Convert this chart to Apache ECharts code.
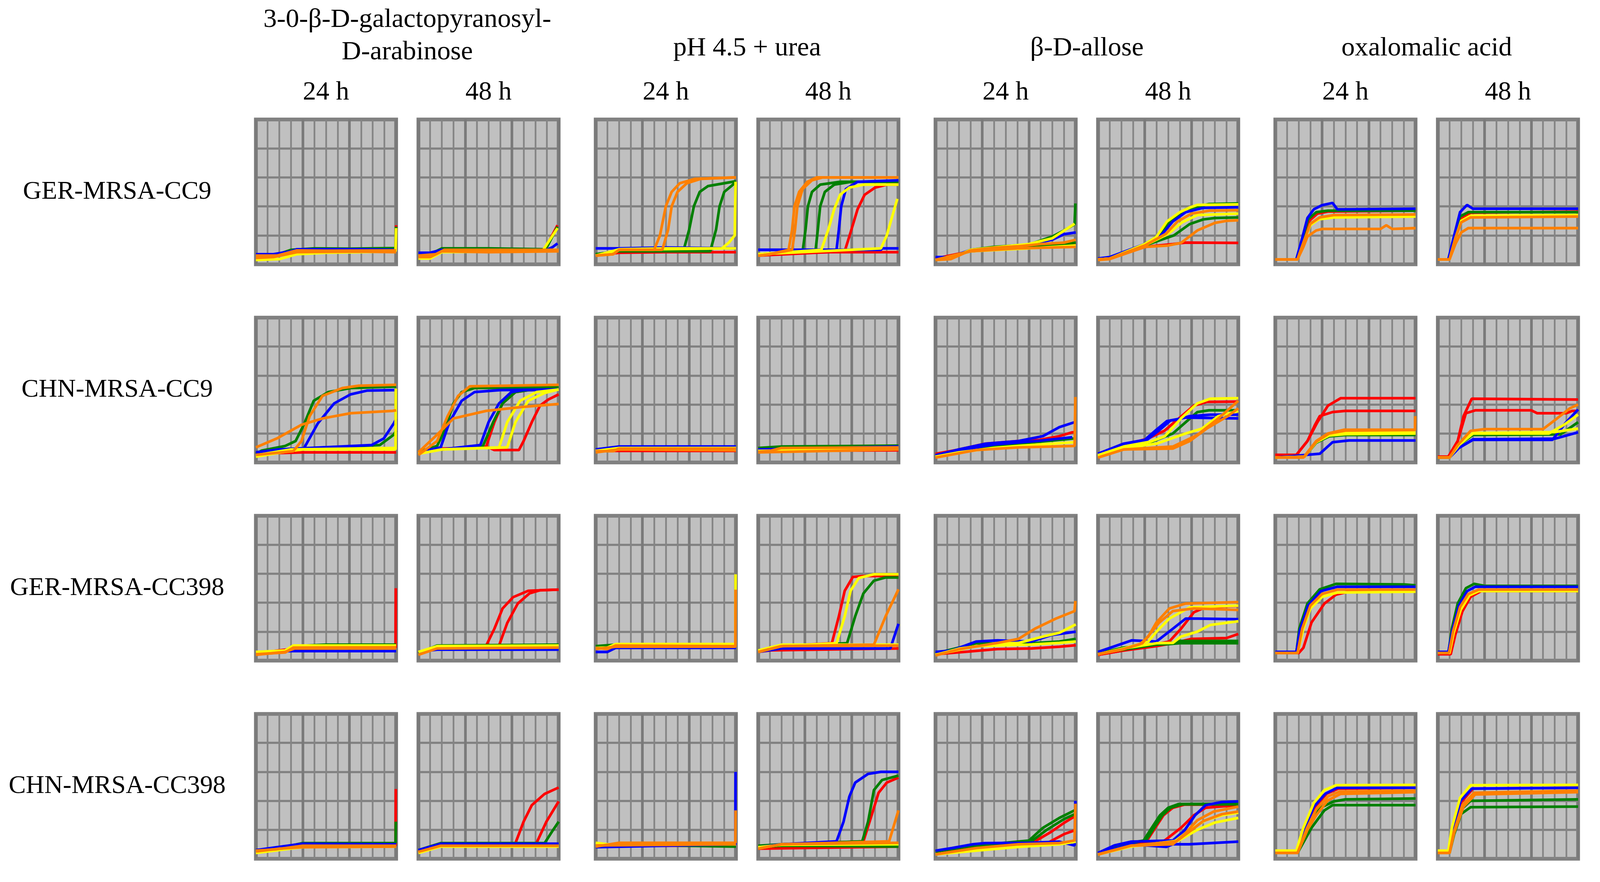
<!DOCTYPE html>
<html><head><meta charset="utf-8">
<script src="https://cdn.jsdelivr.net/npm/echarts@6/dist/echarts.min.js"></script>
<style>html,body{margin:0;padding:0;background:#fff;overflow:hidden}#c{width:100vw;height:100vh}</style>
</head><body><div id="c"></div>
<script>
const rowLabels = ['GER-MRSA-CC9', 'CHN-MRSA-CC9', 'GER-MRSA-CC398', 'CHN-MRSA-CC398'];
const groupTitles = [['3-0-β-D-galactopyranosyl-', 'D-arabinose'], ['pH 4.5 + urea'], ['β-D-allose'], ['oxalomalic acid']];
const timeLabels = ['24 h', '48 h'];

// curves: [replicate colour key, [[x, y], ...]]  x: 0-12 grid columns, y: 0-5 grid rows
const GER9_GAL24 = [
 ['R', [[0,0.3],[1.5,0.3],[3.5,0.42],[6,0.45],[9,0.45],[11.95,0.45],[12,1.35]]],
 ['G', [[0,0.3],[1.7,0.32],[3,0.5],[5,0.55],[8,0.54],[11.95,0.56],[12,1.3]]],
 ['B', [[0,0.35],[1.5,0.35],[3,0.45],[3.5,0.52],[6,0.52],[9,0.52],[12,0.5]]],
 ['Y', [[0,0.15],[2,0.18],[3.5,0.35],[6,0.4],[9,0.42],[11.95,0.45],[12,1.25]]],
 ['O', [[0,0.22],[1.5,0.25],[3.5,0.42],[6,0.43],[9,0.44],[12,0.42]]],
 ['O', [[0,0.3],[1.8,0.3],[3.5,0.48],[6,0.47],[12,0.48]]]
];
const GER9_GAL48 = [
 ['R', [[0,0.3],[0.8,0.3],[2,0.48],[6,0.5],[10.8,0.5],[11.9,1.35]]],
 ['G', [[0,0.32],[1,0.35],[2,0.55],[6,0.55],[10.9,0.52],[11.9,1.3]]],
 ['B', [[0,0.4],[1,0.4],[2,0.5],[6,0.5],[11,0.5],[11.5,0.6],[11.9,0.72]]],
 ['Y', [[0,0.2],[1,0.2],[2,0.42],[6,0.44],[10.6,0.45],[11.9,1.25]]],
 ['O', [[0,0.25],[1,0.25],[2,0.45],[6,0.42],[12,0.45]]],
 ['O', [[0,0.3],[1.5,0.35],[2.2,0.5],[12,0.5]]]
];
const GER9_URE24 = [
 ['R', [[0,0.3],[2,0.4],[6,0.42],[12,0.42]]],
 ['G', [[0,0.35],[2,0.45],[7.5,0.45],[8.0,1.2],[8.4,2.0],[8.9,2.5],[9.6,2.7],[12,2.87]]],
 ['G', [[0,0.35],[2,0.45],[9.8,0.45],[10.3,1.2],[10.6,2.0],[11.0,2.5],[11.6,2.7],[12,2.85]]],
 ['B', [[0,0.55],[2,0.55],[6,0.58],[12,0.55]]],
 ['Y', [[0,0.3],[2,0.5],[10.8,0.55],[11.4,0.75],[11.9,1.0],[11.97,2.85]]],
 ['Y', [[0,0.3],[2,0.52],[6,0.55],[12,0.55]]],
 ['O', [[0,0.3],[1.5,0.35],[2,0.5],[5,0.5],[5.5,1.0],[6,2.0],[6.5,2.5],[7.2,2.8],[8.5,2.95],[12,3.0]]],
 ['O', [[0,0.3],[1.5,0.35],[2,0.5],[5.7,0.5],[6.2,1.2],[6.5,2.0],[7,2.5],[7.8,2.8],[9,2.95],[12,3.0]]]
];
const GER9_URE48 = [
 ['R', [[0,0.3],[7.4,0.45],[7.9,1.1],[8.5,1.9],[9.1,2.4],[10,2.65],[11,2.75],[12,2.75]]],
 ['R', [[0,0.35],[6,0.42],[12,0.42]]],
 ['G', [[0,0.35],[3.8,0.45],[4.05,1.2],[4.25,2.0],[4.6,2.5],[5.3,2.75],[7,2.85],[12,2.85]]],
 ['G', [[0,0.35],[4.9,0.45],[5.1,1.2],[5.3,2.0],[5.7,2.5],[6.5,2.75],[8,2.85],[12,2.85]]],
 ['B', [[0,0.5],[6.7,0.5],[6.9,1.2],[7.1,2.0],[7.5,2.6],[8.5,2.85],[12,2.9]]],
 ['B', [[0,0.5],[10.5,0.5],[10.6,0.55],[12,0.55]]],
 ['Y', [[0,0.35],[5.4,0.5],[6.0,1.2],[6.5,1.9],[7.0,2.4],[7.8,2.65],[9,2.75],[12,2.75]]],
 ['Y', [[0,0.35],[10.5,0.55],[11.0,1.0],[11.5,1.7],[11.9,2.26]]],
 ['O', [[0,0.3],[1,0.35],[2.6,0.5],[2.9,1.2],[3.1,2.0],[3.5,2.5],[4.2,2.85],[5,3.0],[12,3.0]]],
 ['O', [[0,0.3],[1,0.35],[2.9,0.5],[3.15,1.2],[3.35,2.0],[3.8,2.6],[4.6,2.9],[5.5,3.0],[12,3.0]]]
];
const GER9_ALL24 = [
 ['R', [[0,0.2],[3,0.45],[8,0.6],[12,0.7]]],
 ['G', [[0,0.15],[1.3,0.2],[3,0.5],[5,0.6],[8,0.68],[10,0.96],[11,1.17],[11.9,1.38],[11.97,2.1]]],
 ['G', [[0,0.15],[3,0.45],[8,0.6],[10,0.65],[12,0.75]]],
 ['B', [[0,0.25],[1.3,0.25],[3,0.5],[6,0.6],[8,0.68],[10,0.85],[11,1.04],[12,1.1]]],
 ['Y', [[0,0.15],[1.3,0.2],[3,0.5],[5,0.58],[8,0.7],[10,0.9],[11.9,1.4]]],
 ['Y', [[0,0.15],[3,0.45],[8,0.55],[12,0.65]]],
 ['O', [[0,0.15],[1.3,0.18],[3,0.48],[5,0.57],[7,0.62],[9,0.7],[11,0.75],[12,0.85]]],
 ['O', [[0,0.15],[3,0.45],[7,0.55],[12,0.6]]]
];
const GER9_ALL48 = [
 ['R', [[0,0.17],[1,0.2],[4,0.6],[6.4,0.7],[7.5,0.75],[12,0.74]]],
 ['G', [[0,0.17],[1,0.2],[4,0.7],[5.2,1.0],[6.2,1.5],[7.5,1.9],[9.5,2.08],[12,2.1]]],
 ['G', [[0,0.17],[1,0.2],[4,0.65],[6.5,1.0],[7.85,1.39],[9,1.55],[10,1.6],[12,1.62]]],
 ['B', [[0,0.2],[1,0.25],[4,0.7],[5.5,1.05],[6.4,1.48],[7.5,1.8],[9,1.95],[12,1.97]]],
 ['Y', [[0,0.17],[1,0.2],[4,0.7],[5,0.95],[5.9,1.48],[7,1.8],[7.85,1.96],[8.5,2.05],[12,2.07]]],
 ['Y', [[0,0.17],[1,0.2],[4,0.65],[6,1.05],[7.2,1.45],[8.5,1.7],[12,1.75]]],
 ['O', [[0,0.17],[1,0.2],[4,0.65],[5.8,1.05],[6.8,1.48],[8,1.75],[9.5,1.85],[12,1.87]]],
 ['O', [[0,0.15],[1,0.18],[4,0.6],[6,0.65],[7.1,0.74],[8.5,1.17],[10,1.43],[11,1.5],[12,1.52]]]
];
const GER9_OXA24 = [
 ['R', [[0,0.17],[1.85,0.17],[2.4,0.85],[2.9,1.5],[3.6,1.75],[4.5,1.82],[12,1.85]]],
 ['G', [[0,0.17],[1.8,0.17],[2.3,0.85],[2.8,1.55],[3.5,1.8],[4.5,1.85],[12,1.85]]],
 ['B', [[0,0.17],[1.8,0.17],[2.3,0.9],[2.75,1.6],[3.3,1.9],[4,2.04],[4.9,2.12],[5.3,1.9],[6,1.9],[12,1.92]]],
 ['Y', [[0,0.17],[1.9,0.17],[2.5,0.85],[3.0,1.35],[3.7,1.55],[5,1.62],[12,1.65]]],
 ['O', [[0,0.17],[1.9,0.17],[2.5,0.85],[3.0,1.4],[3.8,1.62],[5,1.7],[12,1.72]]],
 ['O', [[0,0.17],[1.9,0.17],[2.4,0.6],[2.75,0.96],[3.5,1.17],[4,1.22],[9,1.22],[9.5,1.35],[10,1.22],[12,1.25]]]
];
const GER9_OXA48 = [
 ['R', [[0,0.17],[0.95,0.17],[1.5,0.95],[2.0,1.6],[2.8,1.78],[12,1.82]]],
 ['G', [[0,0.17],[0.9,0.17],[1.4,0.95],[1.9,1.65],[2.6,1.8],[12,1.8]]],
 ['B', [[0,0.17],[0.9,0.17],[1.4,1.0],[1.9,1.8],[2.5,2.05],[3,1.92],[12,1.92]]],
 ['Y', [[0,0.17],[1,0.17],[1.5,0.9],[2.0,1.5],[2.8,1.68],[12,1.7]]],
 ['O', [[0,0.17],[1,0.17],[1.5,0.9],[2.0,1.45],[2.8,1.62],[12,1.65]]],
 ['O', [[0,0.17],[1,0.17],[1.5,0.7],[2.0,1.1],[2.6,1.25],[12,1.25]]]
];

const CHN9_GAL24 = [
 ['R', [[0,0.3],[4,0.35],[12,0.35]]],
 ['G', [[0,0.3],[0.5,0.41],[2.5,0.57],[3.4,0.74],[4.1,1.3],[4.95,2.13],[6.2,2.43],[8.1,2.57],[12,2.62]]],
 ['G', [[0,0.35],[2,0.45],[10.6,0.6],[11.8,0.96],[12,1.1]]],
 ['B', [[0,0.35],[2,0.45],[4.1,0.48],[5.3,1.35],[6.7,2.04],[8.1,2.35],[9.5,2.48],[12,2.5]]],
 ['B', [[0,0.35],[2,0.45],[9.9,0.6],[10.95,0.83],[11.8,1.35],[12,1.5]]],
 ['Y', [[0,0.2],[3,0.4],[4,0.45],[11.95,0.45],[11.97,2.55]]],
 ['Y', [[0,0.25],[3,0.45],[12,0.5]]],
 ['O', [[0,0.26],[3.2,0.39],[3.9,0.74],[4.6,1.6],[5.7,2.3],[7.4,2.57],[8.8,2.65],[12,2.68]]],
 ['O', [[0,0.52],[1.8,0.83],[3.9,1.3],[5.7,1.52],[8.1,1.7],[11.7,1.78],[12,1.8]]]
];
const CHN9_GAL48 = [
 ['R', [[0,0.35],[2,0.45],[5.8,0.55],[6.5,1.39],[7.2,2.04],[8.3,2.43],[9.5,2.5],[12,2.52]]],
 ['R', [[0,0.35],[2,0.48],[6,0.52],[6.5,0.43],[8.6,0.43],[9.0,0.74],[9.7,1.39],[10.4,1.96],[11.1,2.17],[12,2.35]]],
 ['G', [[0,0.35],[0.5,0.43],[1.6,0.57],[2.3,1.17],[3.0,2.04],[3.7,2.43],[4.8,2.57],[12,2.6]]],
 ['G', [[0,0.35],[2,0.45],[5.5,0.55],[6.4,1.39],[7.2,2.04],[8.3,2.43],[9.5,2.5],[12,2.52]]],
 ['B', [[0,0.35],[1.9,0.52],[2.65,1.39],[3.7,2.13],[4.8,2.43],[7,2.5],[12,2.52]]],
 ['B', [[0,0.35],[2,0.45],[5.3,0.6],[6.0,1.39],[6.9,2.04],[7.95,2.43],[9,2.5],[12,2.52]]],
 ['Y', [[0,0.3],[2,0.45],[6.9,0.52],[7.6,1.39],[8.7,2.13],[10.1,2.43],[12,2.52]]],
 ['Y', [[0,0.3],[2,0.45],[7.6,0.52],[8.3,1.39],[9.4,2.13],[10.8,2.4],[12,2.52]]],
 ['O', [[0,0.26],[1.6,0.74],[2.5,1.6],[3.4,2.3],[4.4,2.63],[12,2.68]]],
 ['O', [[0,0.35],[1.6,0.96],[3.0,1.52],[5.8,1.78],[8.7,1.91],[12,2.02]]]
];
const CHN9_URE24 = [
 ['R', [[0,0.4],[12,0.4]]],
 ['G', [[0,0.45],[2,0.52],[12,0.5]]],
 ['B', [[0,0.45],[2,0.55],[12,0.55]]],
 ['Y', [[0,0.4],[2,0.5],[12,0.5]]],
 ['O', [[0,0.39],[1.5,0.39],[2,0.48],[12,0.48]]],
 ['O', [[0,0.35],[2,0.45],[12,0.42]]]
];
const CHN9_URE48 = [
 ['R', [[0,0.4],[12,0.42]]],
 ['G', [[0,0.5],[2,0.55],[12,0.58]]],
 ['B', [[0,0.45],[12,0.55]]],
 ['Y', [[0,0.4],[12,0.48]]],
 ['O', [[0,0.37],[1,0.4],[2,0.5],[12,0.52]]],
 ['O', [[0,0.35],[12,0.45]]]
];
const CHN9_ALL24 = [
 ['R', [[0,0.3],[1.8,0.43],[4.25,0.65],[7.1,0.74],[8.9,0.78],[10.6,0.91],[11.7,1.04],[12,1.05]]],
 ['G', [[0,0.2],[2,0.4],[5,0.55],[7.1,0.65],[10.6,0.78],[11.9,0.83]]],
 ['B', [[0,0.25],[2,0.45],[4.3,0.65],[7.1,0.74],[9.2,0.91],[10.6,1.22],[11.9,1.39]]],
 ['B', [[0,0.25],[2,0.42],[5,0.62],[8.9,0.75],[11.7,0.87]]],
 ['Y', [[0,0.2],[2,0.35],[5,0.5],[7.1,0.57],[11.9,0.7]]],
 ['O', [[0,0.17],[3.5,0.43],[7.1,0.52],[11.9,0.57],[11.97,2.26]]]
];
const CHN9_ALL48 = [
 ['R', [[0,0.3],[2.2,0.6],[4.3,0.83],[5.7,1.1],[6.8,1.48],[8.2,1.96],[9.3,2.09],[12,2.1]]],
 ['G', [[0,0.25],[2.2,0.55],[4.5,0.7],[6.4,1.0],[7.5,1.39],[8.5,1.74],[9.5,1.8],[12,1.8]]],
 ['B', [[0,0.3],[2.2,0.65],[4,0.78],[5.0,1.13],[5.9,1.43],[6.8,1.48],[7.85,1.6],[9.6,1.65],[12,1.65]]],
 ['B', [[0,0.3],[2.2,0.6],[4,0.72],[5.2,1.1],[6.2,1.45],[7.5,1.55],[12,1.52]]],
 ['Y', [[0,0.25],[2.2,0.55],[4.5,0.72],[5.7,0.9],[7.1,1.52],[8.5,2.04],[9.6,2.2],[12,2.22]]],
 ['Y', [[0,0.2],[2.2,0.5],[5,0.65],[7.5,1.0],[8.9,1.17],[10.3,1.6],[12,1.78]]],
 ['O', [[0,0.17],[2.2,0.45],[6.4,0.48],[7.85,0.74],[9.3,1.17],[11.1,1.6],[12,1.87]]],
 ['O', [[0,0.17],[2.2,0.45],[6.4,0.55],[8.5,0.95],[10.3,1.52],[12,2.13]]]
];
const CHN9_OXA24 = [
 ['R', [[0,0.26],[1.8,0.26],[2.75,0.74],[3.6,1.39],[4.5,1.96],[5.6,2.22],[12,2.22]]],
 ['R', [[0,0.26],[1.8,0.26],[2.75,0.74],[3.4,1.3],[3.8,1.6],[4.9,1.74],[6,1.78],[12,1.78]]],
 ['G', [[0,0.17],[2.5,0.2],[3.5,0.68],[4.6,0.9],[6,0.95],[12,0.95]]],
 ['B', [[0,0.17],[3.8,0.3],[4.9,0.7],[6.3,0.76],[12,0.76]]],
 ['Y', [[0,0.17],[2.5,0.2],[3.5,0.7],[4.6,0.93],[6,0.98],[12,1.0]]],
 ['Y', [[0,0.17],[2.5,0.2],[3.5,0.72],[4.6,0.98],[6,1.05],[12,1.05]]],
 ['O', [[0,0.17],[2.4,0.17],[3.5,0.74],[4.5,1.0],[5.9,1.13],[12,1.13]]],
 ['O', [[0,0.17],[2.5,0.2],[3.5,0.72],[4.6,1.0],[6,1.1],[11.95,1.12],[11.97,1.6]]]
];
const CHN9_OXA48 = [
 ['R', [[0,0.2],[0.9,0.2],[1.7,0.74],[2.2,1.6],[2.9,2.2],[12,2.17]]],
 ['R', [[0,0.2],[0.9,0.2],[1.7,0.74],[2.4,1.7],[3.2,1.8],[8,1.8],[8.5,1.7],[11,1.7],[11.5,1.78],[12,1.78]]],
 ['G', [[0,0.17],[1,0.17],[1.8,0.6],[3,0.95],[10.5,0.97],[12,1.39]]],
 ['B', [[0,0.17],[1,0.17],[1.8,0.5],[3,0.78],[9.8,0.78],[10.9,1.35],[12,1.83]]],
 ['B', [[0,0.17],[1,0.17],[1.8,0.5],[3,0.8],[10,0.82],[12,1.04]]],
 ['Y', [[0,0.17],[1,0.17],[1.8,0.6],[3,1.0],[9.5,1.0],[10.8,1.3],[12,1.65]]],
 ['Y', [[0,0.17],[1,0.17],[1.8,0.6],[3,1.02],[10,1.05],[12,1.17]]],
 ['O', [[0,0.17],[1,0.17],[1.7,0.6],[2.8,1.09],[4,1.15],[9,1.15],[10.2,1.52],[11.3,1.87],[12,2.0]]]
];

const GER398_GAL24 = [
 ['R', [[0,0.26],[3,0.4],[11.95,0.45],[11.97,2.5]]],
 ['G', [[0,0.26],[2.5,0.3],[3.2,0.5],[6,0.55],[12,0.55]]],
 ['B', [[0,0.3],[3,0.33],[12,0.33]]],
 ['Y', [[0,0.3],[2.5,0.35],[3.2,0.52],[12,0.52]]],
 ['O', [[0,0.22],[2.5,0.28],[3.2,0.45],[12,0.46]]],
 ['O', [[0,0.2],[2.5,0.3],[3.3,0.42],[12,0.42]]]
];
const GER398_GAL48 = [
 ['R', [[0,0.26],[1.6,0.48],[5.8,0.52],[6.5,1.1],[7.2,1.8],[8.1,2.19],[9.4,2.41],[12,2.45]]],
 ['R', [[0,0.26],[1.6,0.48],[6.9,0.52],[7.6,1.3],[8.5,1.97],[9.5,2.32],[10.4,2.43],[12,2.45]]],
 ['G', [[0,0.26],[1.6,0.52],[12,0.55]]],
 ['B', [[0,0.3],[1.6,0.38],[12,0.38]]],
 ['Y', [[0,0.3],[1.6,0.5],[12,0.52]]],
 ['O', [[0,0.2],[1.6,0.42],[12,0.45]]]
];
const GER398_URE24 = [
 ['R', [[0,0.45],[12,0.45]]],
 ['G', [[0,0.5],[1.7,0.55],[12,0.55]]],
 ['B', [[0,0.3],[1,0.3],[1.7,0.44],[12,0.44]]],
 ['Y', [[0,0.44],[1,0.45],[1.7,0.57],[11.95,0.57],[11.97,2.98]]],
 ['O', [[0,0.44],[1,0.4],[1.7,0.52],[12,0.5]]],
 ['O', [[0,0.4],[1.7,0.48],[11.95,0.48],[11.97,2.45]]]
];
const GER398_URE48 = [
 ['R', [[0,0.35],[12,0.42]]],
 ['R', [[0,0.3],[1,0.35],[2,0.5],[6.3,0.6],[6.9,1.53],[7.4,2.41],[8.1,2.89],[9,2.92],[12,2.92]]],
 ['G', [[0,0.35],[2,0.5],[7.6,0.6],[8.3,1.53],[9.0,2.32],[9.9,2.76],[10.9,2.87],[12,2.87]]],
 ['B', [[0,0.3],[2,0.42],[11.3,0.42],[11.5,0.66],[12,1.27]]],
 ['Y', [[0,0.3],[2,0.5],[6.7,0.6],[7.4,1.53],[7.9,2.41],[8.6,2.85],[9.9,2.98],[12,2.98]]],
 ['Y', [[0,0.35],[2,0.55],[12,0.55]]],
 ['O', [[0,0.3],[2,0.5],[9.9,0.55],[10.9,1.53],[12,2.46]]],
 ['O', [[0,0.3],[2,0.5],[12,0.52]]]
];
const GER398_ALL24 = [
 ['R', [[0,0.22],[2.8,0.31],[5.3,0.4],[8.2,0.42],[10.6,0.48],[12,0.53]]],
 ['G', [[0,0.25],[3.5,0.6],[7.1,0.57],[10.6,0.66],[12,0.75]]],
 ['B', [[0,0.3],[1.4,0.35],[3.5,0.66],[5.3,0.7],[8.2,0.66],[9.9,0.88],[12,1.0]]],
 ['Y', [[0,0.2],[2.1,0.42],[5.3,0.58],[7.1,0.61],[9.2,0.83],[10.6,0.96],[12,1.25]]],
 ['Y', [[0,0.2],[3.5,0.5],[8,0.55],[10.6,0.61],[12,0.66]]],
 ['O', [[0,0.18],[2.1,0.4],[5.3,0.61],[7.1,0.75],[8.5,1.1],[10.3,1.45],[11.9,1.71],[11.97,2.06]]]
];
const GER398_ALL48 = [
 ['R', [[0,0.2],[2.2,0.35],[6.1,0.66],[7.1,1.1],[8.2,1.67],[9.2,1.84],[12,1.89]]],
 ['R', [[0,0.2],[2.2,0.35],[5,0.5],[6.4,0.6],[8,0.75],[11,0.78],[12,0.92]]],
 ['G', [[0,0.25],[2.2,0.45],[5,0.55],[6.1,0.57],[7,0.6],[12,0.6]]],
 ['G', [[0,0.25],[5,0.55],[6.4,0.62],[7,0.68],[12,0.68]]],
 ['B', [[0,0.3],[2.9,0.7],[5.0,0.66],[6.4,1.1],[7.5,1.45],[8.5,1.45],[12,1.43]]],
 ['Y', [[0,0.22],[2.2,0.42],[4.3,0.66],[5.0,1.0],[6.1,1.45],[7.85,1.84],[12,1.9]]],
 ['Y', [[0,0.22],[2.2,0.42],[5,0.6],[6.4,0.61],[7.1,0.83],[8.5,1.0],[9.6,1.23],[12,1.36]]],
 ['O', [[0,0.22],[2.2,0.4],[3.6,0.57],[4.3,0.83],[5.0,1.32],[6.1,1.8],[7.5,1.97],[12,2.02]]],
 ['O', [[0,0.22],[2.2,0.4],[3.8,0.6],[4.5,0.95],[5.2,1.3],[6.4,1.71],[8.2,1.8],[12,1.75]]]
];
const GER398_OXA24 = [
 ['R', [[0,0.26],[2.0,0.26],[2.4,0.44],[3.1,1.32],[4.2,1.97],[5.2,2.28],[6.5,2.4],[12,2.4]]],
 ['G', [[0,0.26],[1.8,0.26],[2.05,1.1],[2.75,1.97],[3.8,2.46],[5.2,2.65],[11,2.63],[12,2.6]]],
 ['B', [[0,0.3],[1.8,0.3],[2.1,1.05],[2.8,1.9],[3.9,2.4],[5.3,2.55],[12,2.55]]],
 ['Y', [[0,0.26],[1.9,0.26],[2.4,1.1],[3.0,1.8],[4.0,2.2],[5.3,2.35],[12,2.38]]],
 ['O', [[0,0.26],[1.9,0.26],[2.3,1.1],[3.0,1.9],[4.0,2.3],[5.3,2.45],[12,2.45]]]
];
const GER398_OXA48 = [
 ['R', [[0,0.22],[1.1,0.22],[1.5,0.9],[2.1,1.7],[2.8,2.2],[3.7,2.4],[12,2.4]]],
 ['G', [[0,0.26],[0.9,0.26],[1.2,1.1],[1.7,1.97],[2.4,2.5],[3.1,2.65],[4,2.58],[12,2.58]]],
 ['B', [[0,0.3],[0.9,0.3],[1.25,1.05],[1.8,1.9],[2.5,2.4],[3.2,2.55],[12,2.55]]],
 ['Y', [[0,0.26],[1.0,0.26],[1.35,0.95],[1.95,1.75],[2.7,2.25],[3.5,2.4],[12,2.4]]],
 ['O', [[0,0.26],[0.95,0.26],[1.3,1.0],[1.9,1.85],[2.6,2.3],[3.5,2.45],[12,2.45]]]
];

const CHN398_GAL24 = [
 ['R', [[0,0.25],[1.8,0.33],[4,0.42],[11.95,0.45],[11.97,2.41]]],
 ['G', [[0,0.3],[1.8,0.35],[4,0.54],[11.95,0.54],[11.97,1.28]]],
 ['B', [[0,0.3],[1.8,0.4],[4,0.52],[12,0.5]]],
 ['Y', [[0,0.2],[2,0.3],[4,0.4],[12,0.42]]],
 ['O', [[0,0.28],[1.8,0.33],[4,0.45],[12,0.45]]],
 ['O', [[0,0.25],[2,0.35],[4,0.4],[12,0.42]]]
];
const CHN398_GAL48 = [
 ['R', [[0,0.24],[1.9,0.5],[8.3,0.54],[9.0,1.28],[9.7,1.85],[10.8,2.24],[12,2.46]]],
 ['R', [[0,0.24],[1.9,0.45],[10.1,0.54],[10.95,1.28],[12,1.98]]],
 ['G', [[0,0.3],[1.9,0.54],[10.8,0.54],[11.5,0.98],[12,1.28]]],
 ['B', [[0,0.3],[1.9,0.52],[12,0.52]]],
 ['Y', [[0,0.2],[1.9,0.42],[12,0.42]]],
 ['O', [[0,0.24],[1.9,0.45],[12,0.45]]]
];
const CHN398_URE24 = [
 ['R', [[0,0.45],[12,0.45]]],
 ['G', [[0,0.5],[12,0.42]]],
 ['B', [[0,0.4],[11.95,0.5],[11.97,3.0]]],
 ['Y', [[0,0.55],[1,0.5],[12,0.5]]],
 ['O', [[0,0.46],[12,0.5]]],
 ['O', [[0,0.42],[2,0.55],[11.95,0.55],[11.97,1.67]]]
];
const CHN398_URE48 = [
 ['R', [[0,0.4],[2,0.5],[9.0,0.6],[9.7,1.5],[10.3,2.28],[11.0,2.63],[12,2.8]]],
 ['R', [[0,0.35],[12,0.42]]],
 ['G', [[0,0.45],[2,0.5],[8.9,0.6],[9.4,1.28],[9.9,2.37],[10.6,2.72],[12,2.87]]],
 ['G', [[0,0.4],[2,0.45],[12,0.42]]],
 ['B', [[0,0.4],[2,0.5],[6.7,0.6],[7.3,1.28],[7.8,2.15],[8.3,2.63],[9.4,2.93],[10.5,3.0],[12,3.0]]],
 ['Y', [[0,0.4],[2,0.48],[12,0.5]]],
 ['O', [[0,0.35],[2,0.5],[11.2,0.6],[12,1.67]]],
 ['O', [[0,0.35],[2,0.5],[12,0.55]]]
];
const CHN398_ALL24 = [
 ['R', [[0,0.25],[3.2,0.45],[8.5,0.6],[9.9,0.93],[11,1.24],[11.9,1.46]]],
 ['R', [[0,0.25],[3.2,0.42],[9.6,0.55],[11,0.85],[11.9,0.98]]],
 ['G', [[0,0.25],[3.2,0.45],[8.0,0.63],[9.2,1.07],[10.6,1.41],[11.9,1.67]]],
 ['G', [[0,0.25],[3.2,0.45],[8.3,0.63],[9.6,1.02],[11,1.37],[11.9,1.54]]],
 ['B', [[0,0.28],[1.4,0.37],[3.2,0.5],[4.25,0.54],[8,0.55],[10.6,0.59],[11.9,0.46],[11.97,2.0]]],
 ['Y', [[0,0.15],[3.5,0.28],[7.1,0.41],[10.6,0.5],[12,0.59]]],
 ['O', [[0,0.15],[3.5,0.37],[7.1,0.5],[10.6,0.54],[11.9,0.63],[11.97,1.9]]]
];
const CHN398_ALL48 = [
 ['R', [[0,0.2],[2.8,0.5],[4.2,0.63],[4.9,1.07],[5.6,1.5],[6.4,1.76],[7.4,1.87],[12,1.87]]],
 ['R', [[0,0.2],[2.8,0.5],[5.7,0.63],[7.1,1.07],[8.2,1.5],[9.2,1.76],[12,1.85]]],
 ['G', [[0,0.2],[1.4,0.4],[2.8,0.55],[3.9,0.63],[4.6,1.07],[5.3,1.5],[6.0,1.76],[6.9,1.89],[12,1.9]]],
 ['G', [[0,0.2],[1.4,0.4],[2.8,0.55],[4.1,0.63],[4.8,1.07],[5.5,1.5],[6.2,1.76],[7.2,1.88],[12,1.88]]],
 ['B', [[0,0.2],[1.4,0.46],[2.8,0.59],[6.4,0.63],[7.4,0.98],[8.3,1.5],[9.2,1.85],[10.6,1.96],[12,1.98]]],
 ['B', [[0,0.2],[2.8,0.5],[5.85,0.41],[6.4,0.5],[7.8,0.5],[12,0.59]]],
 ['Y', [[0,0.15],[2.8,0.45],[6.4,0.55],[7.8,0.98],[9.2,1.33],[10.6,1.5],[12,1.59]]],
 ['Y', [[0,0.15],[2.8,0.42],[6.9,0.63],[8.5,1.0],[10,1.25],[12,1.41]]],
 ['O', [[0,0.15],[2.8,0.45],[6.4,0.5],[7.4,0.85],[8.5,1.33],[9.9,1.63],[12,1.8]]],
 ['O', [[0,0.15],[2.8,0.45],[6.7,0.6],[7.8,0.93],[9,1.3],[10.6,1.54],[12,1.63]]]
];
const CHN398_OXA24 = [
 ['R', [[0,0.2],[1.85,0.2],[2.55,1.0],[3.4,1.8],[4.4,2.25],[5.4,2.42],[12,2.45]]],
 ['G', [[0,0.2],[1.9,0.2],[3.1,1.07],[4.2,1.67],[4.9,1.85],[12,1.85]]],
 ['G', [[0,0.2],[1.9,0.2],[2.9,1.1],[3.8,1.75],[5,1.98],[6,2.05],[12,2.08]]],
 ['B', [[0,0.2],[1.8,0.2],[2.5,1.0],[3.3,1.8],[4.3,2.25],[5.3,2.45],[12,2.45]]],
 ['Y', [[0,0.28],[1.8,0.28],[2.4,1.07],[3.3,1.93],[4.2,2.37],[5.2,2.54],[12,2.55]]],
 ['O', [[0,0.2],[1.9,0.2],[2.75,1.0],[3.5,1.5],[4.5,2.02],[5.6,2.24],[12,2.3]]],
 ['O', [[0,0.2],[1.9,0.2],[2.7,1.05],[3.5,1.7],[4.5,2.15],[5.5,2.32],[12,2.35]]]
];
const CHN398_OXA48 = [
 ['R', [[0,0.2],[0.95,0.2],[1.3,1.0],[2.0,1.95],[3.0,2.42],[12,2.45]]],
 ['G', [[0,0.2],[1,0.2],[1.35,0.9],[2.0,1.7],[2.8,2.0],[12,2.05]]],
 ['G', [[0,0.2],[1,0.2],[1.4,0.85],[2.0,1.55],[2.8,1.78],[12,1.8]]],
 ['B', [[0,0.2],[0.9,0.2],[1.25,1.0],[1.95,2.0],[2.9,2.42],[12,2.45]]],
 ['Y', [[0,0.28],[0.9,0.28],[1.2,1.07],[1.9,2.1],[2.8,2.54],[12,2.55]]],
 ['O', [[0,0.2],[1,0.2],[1.35,0.9],[2.1,1.85],[3.1,2.28],[12,2.35]]],
 ['O', [[0,0.2],[1,0.2],[1.4,0.9],[2.2,1.8],[3.2,2.22],[12,2.3]]]
];

const panelRows = [
 [GER9_GAL24, GER9_GAL48, GER9_URE24, GER9_URE48, GER9_ALL24, GER9_ALL48, GER9_OXA24, GER9_OXA48],
 [CHN9_GAL24, CHN9_GAL48, CHN9_URE24, CHN9_URE48, CHN9_ALL24, CHN9_ALL48, CHN9_OXA24, CHN9_OXA48],
 [GER398_GAL24, GER398_GAL48, GER398_URE24, GER398_URE48, GER398_ALL24, GER398_ALL48, GER398_OXA24, GER398_OXA48],
 [CHN398_GAL24, CHN398_GAL48, CHN398_URE24, CHN398_URE48, CHN398_ALL24, CHN398_ALL48, CHN398_OXA24, CHN398_OXA48]
];

// ---- styles / layout (design space 4233 x 2259, scaled to the actual viewport) ----
const COLORS = {R: '#ff0000', G: '#008000', B: '#0000ff', Y: '#ffff00', O: '#ff8000'};
const DRAW_ORDER = ['R', 'G', 'B', 'Y', 'O'];
const FONT = '"Liberation Serif", "Times New Roman", serif';
const el = document.getElementById('c');
const VW = el.clientWidth || window.innerWidth || 4233;
const VH = el.clientHeight || window.innerHeight || 2259;
const SX = VW / 4233, SY = VH / 2259, SF = Math.min(SX, SY);
const X0 = 672, PAIR_PITCH = 430, GROUP_PITCH = 899, PANEL = 381;
const Y0 = 301, ROW_PITCH = 507.5;
const INSET = 5, BORDER = 10;

const grids = [], xAxes = [], yAxes = [], series = [], graphics = [];
const panelLeft = c => X0 + Math.floor(c / 2) * GROUP_PITCH + (c % 2) * PAIR_PITCH;
const panelTop = r => Y0 + r * ROW_PITCH;

let gi = 0;
for (let r = 0; r < 4; r++) {
  for (let c = 0; c < 8; c++) {
    const L = panelLeft(c), T = panelTop(r);
    grids.push({left: (L + INSET) * SX, top: (T + INSET) * SY,
      width: (PANEL - 2 * INSET) * SX, height: (PANEL - 2 * INSET) * SY,
      show: true, backgroundColor: '#c0c0c0', borderColor: '#7f7f7f', borderWidth: BORDER * SF, containLabel: false});
    xAxes.push({gridIndex: gi, type: 'value', min: 0, max: 12, interval: 4,
      axisLine: {show: false}, axisTick: {show: false}, axisLabel: {show: false},
      splitLine: {show: true, lineStyle: {color: '#7a7a7a', width: 7 * SF}},
      minorTick: {show: false, splitNumber: 4},
      minorSplitLine: {show: true, lineStyle: {color: '#858585', width: 4.5 * SF}}});
    yAxes.push({gridIndex: gi, type: 'value', min: 0, max: 5, interval: 1,
      axisLine: {show: false}, axisTick: {show: false}, axisLabel: {show: false},
      splitLine: {show: true, lineStyle: {color: '#818181', width: 5.5 * SF}}});
    const curves = panelRows[r][c].slice().sort((a, b) => DRAW_ORDER.indexOf(a[0]) - DRAW_ORDER.indexOf(b[0]));
    curves.forEach(cv => {
      series.push({type: 'line', xAxisIndex: gi, yAxisIndex: gi, data: cv[1], symbol: 'none',
        silent: true, animation: false, lineStyle: {color: COLORS[cv[0]], width: 7 * SF}, z: 3});
    });
    gi++;
  }
}

const txt = (text, x, y, size) => ({type: 'text', x: x * SX, y: y * SY, silent: true,
  style: {text, fill: '#000', fontSize: size * SF, fontFamily: FONT, align: 'center', verticalAlign: 'middle'}});

rowLabels.forEach((t, r) => graphics.push(txt(t, 310, panelTop(r) + PANEL / 2, 68)));
for (let c = 0; c < 8; c++) graphics.push(txt(timeLabels[c % 2], panelLeft(c) + PANEL / 2, 237, 70));
groupTitles.forEach((lines, g) => {
  const cx = (panelLeft(2 * g) + panelLeft(2 * g + 1) + PANEL) / 2;
  if (lines.length === 2) {
    graphics.push(txt(lines[0], cx, 51, 71));
    graphics.push(txt(lines[1], cx, 134, 71));
  } else {
    graphics.push(txt(lines[0], cx, 124, 71));
  }
});

const chart = echarts.init(el, null, {renderer: 'canvas'});
chart.setOption({animation: false, backgroundColor: '#ffffff', grid: grids, xAxis: xAxes, yAxis: yAxes, series, graphic: graphics});
</script></body></html>
